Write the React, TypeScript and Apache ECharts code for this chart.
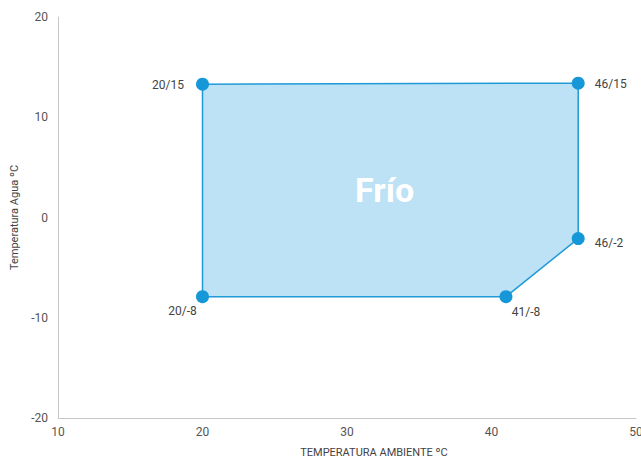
import React, { useEffect, useRef } from "react";
import * as echarts from "echarts";

const xValues = [20, 46, 46, 41, 20];
const yValues = [13.3, 13.4, -2.1, -7.9, -7.9];
const pointLabels = ["20/15", "46/15", "46/-2", "41/-8", "20/-8"];
const labelPositions = ["left", "right", "right", "bottom", "bottom"];
const regionName = "Frío";
const regionCenter = [32.6, 2.7];

const FONT = "'Liberation Sans Narrow', 'Roboto', 'Liberation Sans', sans-serif";
const LINE = "#1f9ad6";
const FILL = "#bde2f6";

export default function App() {
  const ref = useRef<HTMLDivElement>(null);
  useEffect(() => {
    if (!ref.current) return;
    const chart = echarts.init(ref.current, null, { renderer: "svg" });
    const pts = xValues.map((x, i) => [x, yValues[i]]);
    const labelOffsets: Record<string, number[]> = {
      "20/15": [-4, 1],
      "46/15": [2, 1],
      "46/-2": [2, 4],
      "41/-8": [20, -5],
      "20/-8": [-20, -6],
    };
    chart.setOption({
      animation: false,
      textStyle: { fontFamily: FONT },
      grid: { left: 58, right: 5, top: 17, bottom: 42, containLabel: false, outerBoundsMode: "none" },
      xAxis: {
        type: "value",
        min: 10,
        max: 50,
        interval: 10,
        name: "TEMPERATURA AMBIENTE ºC",
        nameLocation: "middle",
        nameGap: 29,
        nameTextStyle: { color: "#444", fontSize: 11, fontFamily: FONT, padding: [0, 0, 0, 54] },
        axisLine: { show: true, onZero: false, lineStyle: { color: "#c8c8c8", width: 1 } },
        axisTick: { show: false },
        splitLine: { show: false },
        axisLabel: { color: "#555", fontSize: 12, margin: 8, fontFamily: FONT },
      },
      yAxis: {
        type: "value",
        min: -20,
        max: 20,
        interval: 10,
        name: "Temperatura Agua ºC",
        nameLocation: "middle",
        nameGap: 35,
        nameRotate: 90,
        nameTextStyle: { color: "#444", fontSize: 11, fontFamily: FONT },
        axisLine: { show: true, onZero: false, lineStyle: { color: "#c8c8c8", width: 1 } },
        axisTick: { show: false },
        splitLine: { show: false },
        axisLabel: { color: "#555", fontSize: 12, margin: 10, fontFamily: FONT },
      },
      series: [
        {
          type: "custom",
          data: [0],
          silent: true,
          renderItem: (params: any, api: any) => {
            const coords = pts.map((p) => api.coord(p));
            const c = api.coord(regionCenter);
            return {
              type: "group",
              children: [
                {
                  type: "polygon",
                  shape: { points: coords },
                  style: { fill: FILL, stroke: LINE, lineWidth: 1.5 },
                },
                {
                  type: "text",
                  x: c[0],
                  y: c[1],
                  style: {
                    text: regionName,
                    fill: "#ffffff",
                    font: `bold 34px ${FONT}`,
                    align: "center",
                    verticalAlign: "middle",
                  },
                },
              ],
            };
          },
        },
        {
          type: "scatter",
          data: pts.map((p, i) => ({
            value: p,
            label: {
              show: true,
              position: labelPositions[i],
              offset: labelOffsets[pointLabels[i]],
              formatter: pointLabels[i],
            },
          })),
          symbolSize: 13,
          itemStyle: { color: "#1597d8", opacity: 1 },
          label: { color: "#444", fontSize: 12, fontFamily: FONT, distance: 8 },
          z: 5,
        },
      ],
    });
    return () => chart.dispose();
  }, []);
  return <div ref={ref} style={{ width: 641, height: 460, position: "absolute", left: 0, top: 0 }} />;
}
